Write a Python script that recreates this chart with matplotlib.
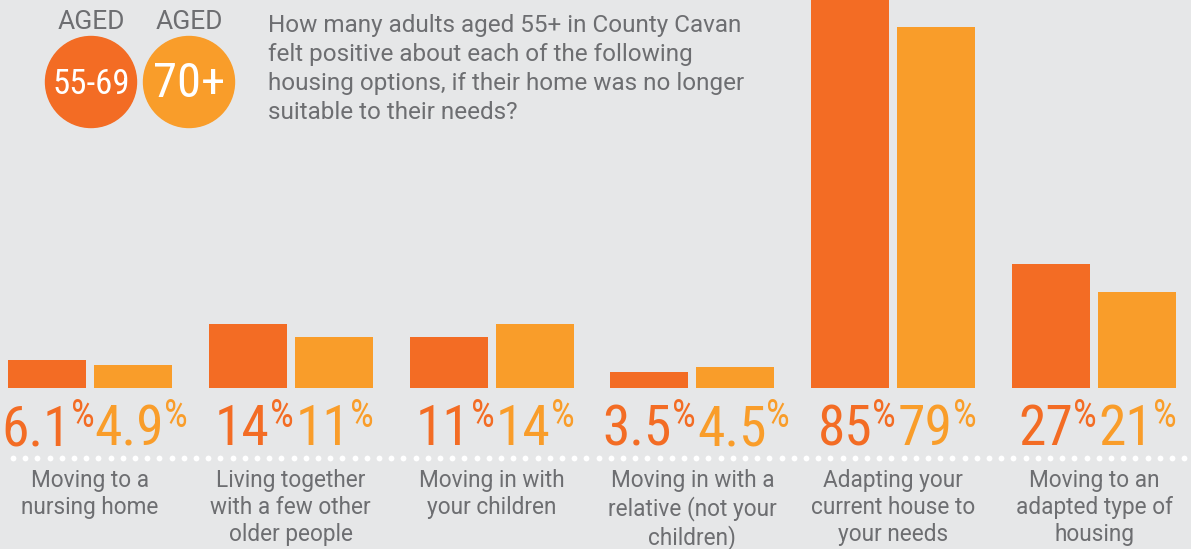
import matplotlib
matplotlib.use("Agg")
import matplotlib.pyplot as plt
from matplotlib.patches import Circle
from matplotlib.transforms import blended_transform_factory
import numpy as np

# ---------------- data ----------------
categories = [
    "Moving to a\nnursing home",
    "Living together\nwith a few other\nolder people",
    "Moving in with\nyour children",
    "Moving in with a\nrelative (not your\nchildren)",
    "Adapting your\ncurrent house to\nyour needs",
    "Moving to an\nadapted type of\nhousing",
]
aged_55_69 = [6.1, 14, 11, 3.5, 85, 27]
aged_70_plus = [4.9, 11, 14, 4.5, 79, 21]
labels_55_69 = ["6.1", "14", "11", "3.5", "85", "27"]
labels_70_plus = ["4.9", "11", "14", "4.5", "79", "21"]
group_names = ["55-69", "70+"]
title = ("How many adults aged 55+ in County Cavan\n"
         "felt positive about each of the following\n"
         "housing options, if their home was no longer\n"
         "suitable to their needs?")

# ---------------- style ----------------
BG = "#e6e7e8"
DARK = "#f36c24"
LIGHT = "#f99d2a"
GRAY = "#6d6e71"
FONT = ["Roboto", "DejaVu Sans"]
NUMFONT = ["Liberation Sans Narrow", "Roboto Condensed", "Roboto", "DejaVu Sans"]

W, H = 1191, 549
fig = plt.figure(figsize=(W / 100, H / 100), dpi=100, facecolor=BG)

# pixel-space overlay axes
deco = fig.add_axes([0, 0, 1, 1], facecolor="none")
deco.set_xlim(0, W)
deco.set_ylim(H, 0)
deco.axis("off")

# bar axes
ax = fig.add_axes([0, 0, 1, 1], facecolor="none")
ax.set_xlim(-0.448, 5.483)
ax.set_ylim(-35.34, 84.8)
ax.axis("off")

x = np.arange(len(categories))
bw = 0.388
off = 0.214
ax.bar(x - off, aged_55_69, width=bw, color=DARK, zorder=2)
ax.bar(x + off, aged_70_plus, width=bw, color=LIGHT, zorder=2)

blend = blended_transform_factory(ax.transData, deco.transData)

# value labels: big number + small superscript %
renderer = fig.canvas.get_renderer()
def value_label(anchor_px, txt, color, align):
    t1 = deco.text(0, 445, txt, fontsize=40, color=color, family=NUMFONT,
                   ha="left", va="baseline")
    t2 = deco.text(0, 427, "%", fontsize=27, color=color, family=NUMFONT,
                   ha="left", va="baseline")
    w1 = t1.get_window_extent(renderer).width
    w2 = t2.get_window_extent(renderer).width
    total = w1 + w2
    left = anchor_px - total if align == "right" else anchor_px
    left = max(left, 1.5)
    t1.set_x(left)
    t2.set_x(left + w1)

for i in range(len(categories)):
    light_left = ax.transData.transform((x[i] + off - bw / 2, 0))[0]
    value_label(light_left - 1, labels_55_69[i], DARK, "right")
    value_label(light_left + 0.5, labels_70_plus[i], LIGHT, "left")

# dotted white separator
dots = np.arange(13, W, 12.2)
deco.plot(dots, np.full_like(dots, 458), "o", color="white", ms=4.2, mew=0)

# category labels
for i, c in enumerate(categories):
    ax.text(x[i], 469, c, transform=blend, ha="center", va="top",
            fontsize=16.3, color=GRAY, family=FONT, linespacing=1.22)

# title
deco.text(268, 14, title, ha="left", va="top", fontsize=17.5, color=GRAY,
          family=FONT, linespacing=1.33)

# legend circles
for cx, col, name, fs in [(91, DARK, group_names[0], 25), (189, LIGHT, group_names[1], 35)]:
    deco.add_patch(Circle((cx, 82), 45.5, color=col, zorder=3))
    deco.text(cx, 22, "AGED", ha="center", va="center", fontsize=19,
              color=GRAY, family=FONT)
    deco.text(cx, 84, name, ha="center", va="center", fontsize=fs,
              color="white", family=NUMFONT, zorder=4)

fig.savefig("out.png", dpi=100, facecolor=BG)
